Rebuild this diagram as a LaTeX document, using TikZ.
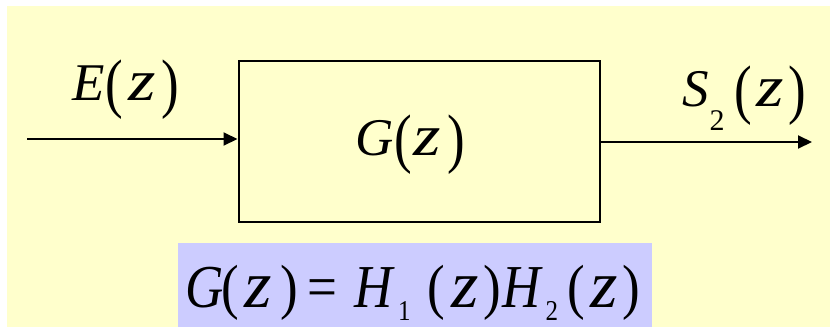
\documentclass[tikz,border=0pt]{standalone}
\usepackage{fontspec}
\setmainfont{Liberation Serif}
\usetikzlibrary{arrows.meta}
\definecolor{bgyellow}{HTML}{FFFFCC}
\definecolor{eqblue}{HTML}{CCCCFF}
\newcommand\bigtxt{\fontsize{53}{56}\selectfont}
\newcommand\iv[1]{\textit{#1}}
\newcommand\zz{\hspace{1.5pt}\scalebox{1.33}[1.1]{\iv{z}}\hspace{1.5pt}}
\newcommand\blp{\raisebox{-5.4pt}{\scalebox{1}[1.24]{(}}}
\newcommand\brp{\raisebox{-5.4pt}{\scalebox{1}[1.24]{)}}}
\newcommand\sublow[3]{\raisebox{-#2pt}{\fontsize{#1}{#1}\selectfont #3}}
\begin{document}
\begin{tikzpicture}[x=1pt,y=-1pt,
  lbl/.style={inner sep=0pt,outer sep=0pt,font=\bigtxt,anchor=base west},
  conn/.style={line width=2pt,-{Triangle[length=14pt,width=13pt]}},
  blockbox/.style={draw,line width=2pt,inner sep=0pt,minimum width=361pt,minimum height=161pt,anchor=north west}]
\useasboundingbox (0,0) rectangle (830,327);
\fill[white] (0,0) rectangle (830,327);
\fill[bgyellow] (7,6) rectangle (830,327);
\node[blockbox] (G) at (237.5,59.5) {};
\node[lbl] (gtxt) at (355,155) {\iv{G}\hspace{1pt}\blp\zz\hspace{5pt}\brp};
\node[lbl] (etxt) at (72,100) {\iv{E}\hspace{1pt}\blp\hspace{4pt}\zz\hspace{4pt}\brp};
\node[lbl] (stxt) at (682,106) {\iv{S}\hspace{1pt}\sublow{30}{24}{2}\hspace{10pt}\blp\hspace{3pt}\zz\hspace{3pt}\brp};
\coordinate (in) at (27,139);
\coordinate (out) at (812,142);
\draw[conn] (in) -- (in -| G.west);
\draw[conn] (G.east |- out) -- (out);
\fill[eqblue] (178,243) rectangle (652,327);
\node[lbl] (eq) at (185,307) {\scalebox{1}[1.15]{\iv{G}\hspace{-2pt}(\hspace{4pt}\zz\hspace{7pt})\hspace{10pt}=\hspace{17pt}\iv{H}\hspace{2.5pt}\sublow{25}{12}{1}\hspace{17pt}(\hspace{4.5pt}\zz\hspace{3.5pt})\hspace{1.2pt}\iv{H}\hspace{2.5pt}\sublow{25}{12}{2}\hspace{9pt}(\hspace{4pt}\zz\hspace{3.5pt})}};
\end{tikzpicture}
\end{document}
